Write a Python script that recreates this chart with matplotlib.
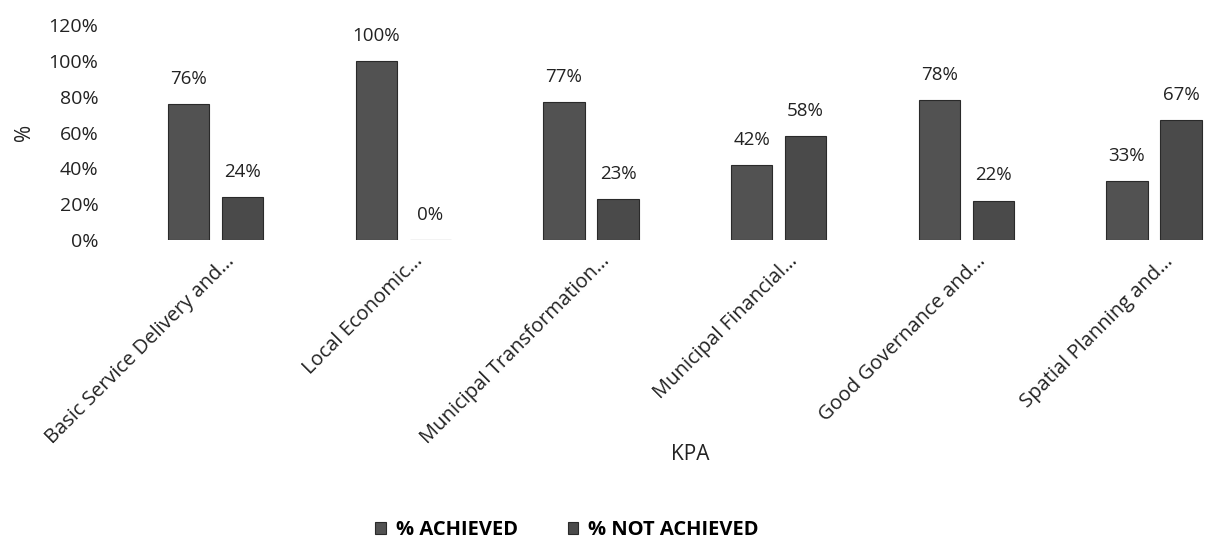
import matplotlib
matplotlib.use("Agg")
import matplotlib.pyplot as plt
import matplotlib.transforms as mtransforms
import numpy as np

categories = ["Basic Service Delivery and…", "Local Economic…", "Municipal Transformation…",
              "Municipal Financial…", "Good Governance and…", "Spatial Planning and…"]
achieved = [76, 100, 77, 42, 78, 33]
not_achieved = [24, 0, 23, 58, 22, 67]
yticks = [0, 20, 40, 60, 80, 100, 120]

plt.rcParams['font.family'] = ['Open Sans', 'DejaVu Sans']

fig = plt.figure(figsize=(12.28, 5.49), dpi=100)
ax = fig.add_axes([122 / 1228, 1 - 240 / 549, 1106 / 1228, 215 / 549])

x = np.arange(len(categories))
w = 0.22
off = 0.144
b1 = ax.bar(x - off, achieved, w, color='#525252', edgecolor='#2a2a2a', linewidth=0.8, label='% ACHIEVED')
b2 = ax.bar(x + off, not_achieved, w, color='#4a4a4a', edgecolor='#2a2a2a', linewidth=0.8, label='% NOT ACHIEVED')

for bars, vals in ((b1, achieved), (b2, not_achieved)):
    for r, v in zip(bars, vals):
        ax.text(r.get_x() + r.get_width() / 2, v + 9, f"{v}%", ha='center', va='bottom',
                fontsize=13.5, color='#222222')

ax.set_ylim(0, 120)
ax.set_xlim(-0.5, 5.395)
ax.set_yticks(yticks)
ax.set_yticklabels([f"{t}%" for t in yticks], fontsize=14, color='#222222')
ax.set_xticks(x)
ax.set_xticklabels(categories, rotation=45, ha='right', rotation_mode='anchor', fontsize=14.5, color='#222222')
ax.tick_params(axis='y', length=0, pad=17)
ax.tick_params(axis='x', length=0, pad=8)
shift = mtransforms.ScaledTranslation(9 / 100, 0, fig.dpi_scale_trans)
for lbl in ax.get_xticklabels():
    lbl.set_transform(lbl.get_transform() + shift)
for s in ax.spines.values():
    s.set_visible(False)
ax.set_ylabel('%', fontsize=15, color='#222222', labelpad=10)
fig.text(690 / 1228, 1 - 455 / 549, 'KPA', ha='center', va='center', fontsize=15, color='#222222')

fig.legend(handles=[b1, b2], loc='center', bbox_to_anchor=(567 / 1228, 1 - 530 / 549), ncol=2, frameon=False,
           handlelength=0.5, handleheight=0.5, columnspacing=2.5, handletextpad=0.5,
           prop={'weight': 'bold', 'size': 14.5})

fig.savefig('out.png', dpi=100, facecolor='white')
